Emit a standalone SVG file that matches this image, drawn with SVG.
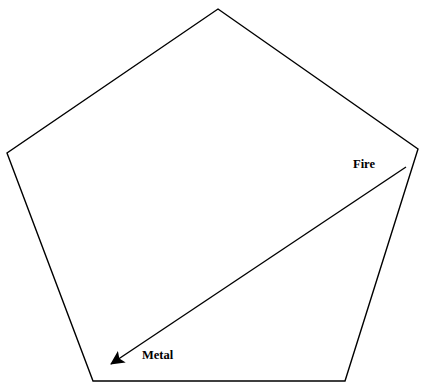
<svg xmlns="http://www.w3.org/2000/svg" width="426" height="384" viewBox="0 0 426 384">
<style>
.edge{fill:none;stroke:#000;stroke-width:1.4}
.lbl{font-family:"Liberation Serif",serif;font-size:12.5px;font-weight:bold;fill:#000}
</style>
<defs>
<marker id="ah" markerWidth="14" markerHeight="14" refX="13" refY="7" orient="auto" markerUnits="userSpaceOnUse">
<path d="M0,0 L14,7 L0,14 L3,7 Z" fill="#000"/>
</marker>
</defs>
<rect width="426" height="384" fill="#fff"/>
<g id="pentagon">
<polygon class="edge" points="218,9 418,149 345,381 93,381 7,153"/>
</g>
<g id="fire"><text class="lbl" x="353" y="168">Fire</text></g>
<g id="metal"><text class="lbl" x="142" y="359">Metal</text></g>
<g id="connectors">
<line class="edge" x1="406" y1="167" x2="111" y2="364" marker-end="url(#ah)"/>
</g>
</svg>
